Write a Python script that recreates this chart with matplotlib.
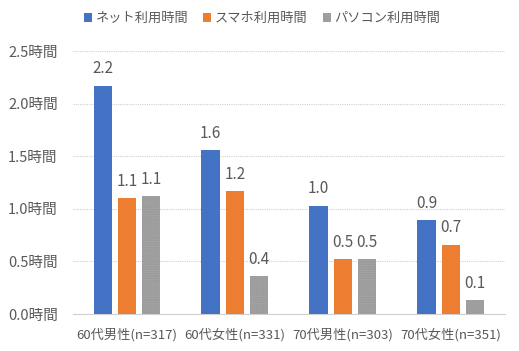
import matplotlib
matplotlib.use("Agg")
import matplotlib.pyplot as plt
import numpy as np

plt.rcParams['font.family'] = ['Noto Sans CJK JP', 'DejaVu Sans']

categories = ["60代男性(n=317)", "60代女性(n=331)", "70代男性(n=303)", "70代女性(n=351)"]
series_names = ["ネット利用時間", "スマホ利用時間", "パソコン利用時間"]
net = [2.17, 1.56, 1.03, 0.89]
smartphone = [1.10, 1.17, 0.52, 0.66]
pc = [1.12, 0.36, 0.52, 0.13]
yticks = [0.0, 0.5, 1.0, 1.5, 2.0, 2.5]
ytick_labels = ["0.0時間", "0.5時間", "1.0時間", "1.5時間", "2.0時間", "2.5時間"]

colors = ["#4472C4", "#ED7D31", "#A5A5A5"]
text_color = "#595959"

fig = plt.figure(figsize=(5.19, 3.51), dpi=100)
ax = fig.add_axes([0.1407, 0.1054, 0.832, 0.749])

x = np.arange(len(categories))
w = 0.17
step = 0.225
handles = []
for i, (vals, name, c) in enumerate(zip([net, smartphone, pc], series_names, colors)):
    pos = x + (i - 1) * step
    if i == 2:
        kw = dict(hatch='.......', edgecolor='#959595', linewidth=0)
    else:
        kw = dict(linewidth=0)
    b = ax.bar(pos, vals, w, color=c, label=name, zorder=3, **kw)
    handles.append(b)
    for p, v in zip(pos, vals):
        ax.annotate(f"{v:.1f}", (p, v), xytext=(0, 6), textcoords='offset points',
                    ha='center', va='bottom', fontsize=11, color=text_color)

ax.set_xlim(-0.5, len(categories) - 0.5)
ax.set_ylim(0, 2.5)
ax.set_yticks(yticks)
ax.set_yticklabels(ytick_labels)
ax.set_xticks(x)
ax.set_xticklabels(categories)
ax.tick_params(axis='both', length=0, colors=text_color)
ax.tick_params(axis='x', pad=10, labelsize=9.5)
ax.tick_params(axis='y', pad=11, labelsize=10.5)
ax.yaxis.grid(True, color='#D0D0D0', linestyle=(0, (1, 1)), linewidth=0.8, zorder=0)
for s in ['top', 'right', 'left']:
    ax.spines[s].set_visible(False)
ax.spines['bottom'].set_color('#D0D0D0')
ax.spines['bottom'].set_linewidth(0.8)

fig.legend(handles=handles, labels=series_names, loc='center', bbox_to_anchor=(0.505, 0.947),
           ncol=3, frameon=False, fontsize=9.5, handlelength=0.6, handleheight=0.6,
           handletextpad=0.25, columnspacing=1.15, labelcolor=text_color)

fig.savefig("out.png", dpi=100)
